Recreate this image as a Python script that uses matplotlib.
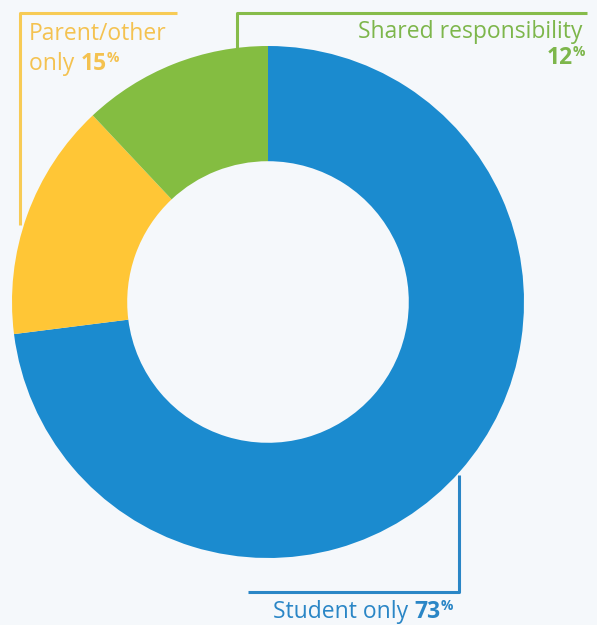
import matplotlib
matplotlib.use("Agg")
import matplotlib.pyplot as plt

categories = ["Student only", "Parent/other only", "Shared responsibility"]
values = [73, 15, 12]
colors = ["#1B8BCF", "#FFC636", "#84BD41"]
text_colors = ["#2A86C6", "#F4C250", "#7DB64B"]
bg = "#F5F8FB"

W, H = 597, 625
fig = plt.figure(figsize=(W / 100, H / 100), dpi=100, facecolor=bg)
ax = fig.add_axes([0, 0, 1, 1])
ax.set_xlim(0, W)
ax.set_ylim(H, 0)
ax.set_axis_off()
ax.set_facecolor(bg)

# Donut (pie drawn in a y-up helper axes overlay)
pax = fig.add_axes([0, 0, 1, 1])
cx, cy, r = 268, H - 302, 256
pax.pie(values, colors=colors, startangle=90, counterclock=False,
        center=(cx, cy), radius=r, frame=True,
        wedgeprops=dict(width=r * 0.45, linewidth=0))
pax.set_xlim(0, W)
pax.set_ylim(0, H)
pax.set_axis_off()
pax.set_aspect("auto")
pax.patch.set_alpha(0)

# Leader lines
lw = 2.2
ax.plot([20, 20, 177], [225, 13, 13], color="#F7CB55", lw=lw, solid_capstyle="butt", zorder=0)
ax.plot([237, 237, 587], [48, 13, 13], color="#86BC4A", lw=lw, solid_capstyle="butt", zorder=0)
ax.plot([459, 459, 248], [475, 592, 592], color="#2A86C6", lw=lw, solid_capstyle="butt", zorder=0)

FONT = ["Open Sans", "DejaVu Sans"]
renderer = fig.canvas.get_renderer()


def chain(x, y, parts, ha="left"):
    """parts: list of (text, size, weight, color, dy)"""
    arts = []
    widths = []
    for s, size, weight, color, dy in parts:
        t = ax.text(0, 0, s, fontsize=size, fontweight=weight, color=color,
                    family=FONT, va="baseline", ha="left")
        bb = t.get_window_extent(renderer=renderer)
        arts.append(t)
        widths.append(bb.width)
    total = sum(widths)
    xpos = x if ha == "left" else x - total
    for (s, size, weight, color, dy), t, w in zip(parts, arts, widths):
        t.set_position((xpos, y - dy))
        xpos += w


FS = 16.5
PS = 10
chain(29, 40, [("Parent/other", FS, "normal", text_colors[1], 0)])
chain(29, 70, [("only ", FS, "normal", text_colors[1], 0),
               (str(values[1]), FS, "bold", text_colors[1], 0),
               ("%", PS, "bold", text_colors[1], 8)])
chain(582, 38, [("Shared responsibility", FS, "normal", text_colors[2], 0)], ha="right")
chain(585, 64, [(str(values[2]), FS, "bold", text_colors[2], 0),
                ("%", PS, "bold", text_colors[2], 8)], ha="right")
chain(273, 618, [("Student only ", FS, "normal", text_colors[0], 0),
                 (str(values[0]), FS, "bold", text_colors[0], 0),
                 ("%", PS, "bold", text_colors[0], 8)])

fig.savefig("out.png", dpi=100, facecolor=bg)
